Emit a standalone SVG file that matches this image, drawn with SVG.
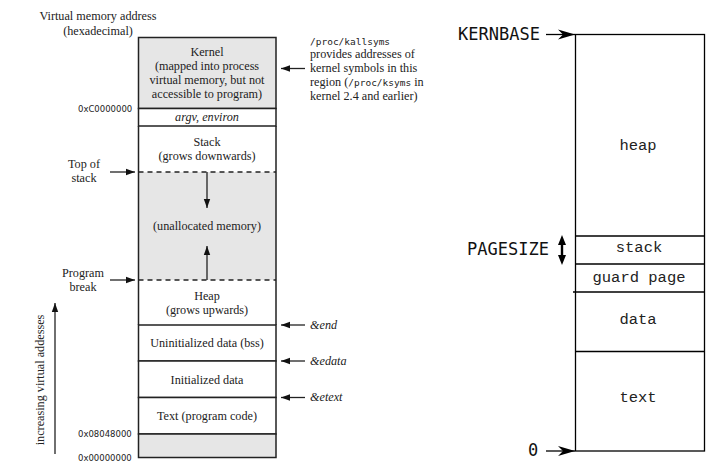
<svg xmlns="http://www.w3.org/2000/svg" width="719" height="474" viewBox="0 0 719 474">
<style>
.s{font-family:"Liberation Serif","DejaVu Serif",serif;font-size:12.2px;fill:#222}
.si{font-family:"Liberation Serif","DejaVu Serif",serif;font-size:12.2px;font-style:italic;fill:#222}
.m{font-family:"DejaVu Sans Mono","Liberation Mono",monospace;font-size:9.5px;fill:#222}
.h{font-family:"DejaVu Sans","Liberation Sans",sans-serif;font-size:8.5px;fill:#222}
.c{text-anchor:middle}
.ln{stroke:#222;stroke-width:1.5;fill:none}
.gr{stroke:#222;stroke-width:1.5;fill:#e6e6e6}
.wh{stroke:#222;stroke-width:1.5;fill:#fff}
.dash{stroke:#222;stroke-width:1.5;stroke-dasharray:5,4;fill:none}
.ar{stroke:#222;stroke-width:1.3;fill:none;marker-end:url(#ah)}
.big{font-family:"DejaVu Sans Mono","Liberation Mono",monospace;font-size:17px;fill:#111}
.lab{font-family:"Liberation Mono","DejaVu Sans Mono",monospace;font-size:15.5px;fill:#222}
.rl{stroke:#000;stroke-width:1.3;fill:none}
</style>
<defs>
<marker id="ah" markerWidth="10" markerHeight="8" refX="9" refY="4" orient="auto" markerUnits="userSpaceOnUse">
<path d="M0,0.8 L9,4 L0,7.2 z" fill="#111"/>
</marker>
<marker id="bh" markerWidth="18" markerHeight="12" refX="17" refY="6" orient="auto" markerUnits="userSpaceOnUse">
<path d="M0,1 L17,6 L0,11 L5,6 z" fill="#000"/>
</marker>
</defs>

<g id="left-labels">
<text class="s c" x="98" y="20">Virtual memory address</text>
<text class="s c" x="98" y="35">(hexadecimal)</text>
<text class="h" x="78" y="112">0xC0000000</text>
<text class="h" x="78" y="437">0x08048000</text>
<text class="h" x="78" y="461">0x00000000</text>
<text class="s c" x="84" y="168">Top of</text>
<text class="s c" x="84" y="182">stack</text>
<text class="s c" x="83" y="277">Program</text>
<text class="s c" x="83" y="291">break</text>
<text class="s c" transform="translate(44,380) rotate(-90)">increasing virtual addesses</text>
</g>

<g id="kernel">
<rect x="138.5" y="37.5" width="137.5" height="71" class="gr"/>
<text class="s c" x="207" y="56">Kernel</text>
<text class="s c" x="207" y="70">(mapped into process</text>
<text class="s c" x="207" y="84">virtual memory, but not</text>
<text class="s c" x="207" y="98">accessible to program)</text>
</g>
<g id="argv">
<rect x="138.5" y="108.5" width="137.5" height="17.5" class="wh"/>
<text class="si c" x="207" y="121">argv, environ</text>
</g>
<g id="stack">
<path class="ln" d="M138.5,126 V172 M276,126 V172"/>
<text class="s c" x="207" y="146">Stack</text>
<text class="s c" x="207" y="160">(grows downwards)</text>
</g>
<g id="unallocated">
<rect x="138.5" y="172" width="137.5" height="108" fill="#e6e6e6"/>
<path class="ln" d="M138.5,172 V280 M276,172 V280"/>
<path class="dash" d="M138.5,172 H276 M138.5,280 H276"/>
<text class="s c" x="207" y="229.5">(unallocated memory)</text>
</g>
<g id="heap">
<path class="ln" d="M138.5,280 V325 M276,280 V325"/>
<text class="s c" x="207" y="300">Heap</text>
<text class="s c" x="207" y="314">(grows upwards)</text>
</g>
<g id="bss">
<rect x="138.5" y="325" width="137.5" height="36" class="wh"/>
<text class="s c" x="207" y="347">Uninitialized data (bss)</text>
</g>
<g id="initdata">
<rect x="138.5" y="361" width="137.5" height="36.5" class="wh"/>
<text class="s c" x="207" y="384">Initialized data</text>
</g>
<g id="textseg">
<rect x="138.5" y="397.5" width="137.5" height="36.5" class="wh"/>
<text class="s c" x="207" y="420">Text (program code)</text>
</g>
<g id="lowmem">
<rect x="138.5" y="434" width="137.5" height="23.5" class="gr"/>
</g>

<g id="right-notes">
<text class="m" x="310" y="45">/proc/kallsyms</text>
<text class="s" x="310" y="58">provides addresses of</text>
<text class="s" x="310" y="72">kernel symbols in this</text>
<text class="s" x="310" y="86">region (<tspan class="m">/proc/ksyms</tspan> in</text>
<text class="s" x="310" y="99.5">kernel 2.4 and earlier)</text>
<text class="si" x="310" y="329">&amp;end</text>
<text class="si" x="310" y="365">&amp;edata</text>
<text class="si" x="310" y="401">&amp;etext</text>
</g>

<g id="connectors-left">
<path class="ar" d="M305,68.5 H281"/>
<path class="ar" d="M110,172 H135"/>
<path class="ar" d="M110,280 H135"/>
<path class="ar" d="M207,172 V208"/>
<path class="ar" d="M207,280 V246"/>
<path class="ar" d="M305,325 H281"/>
<path class="ar" d="M305,361 H281"/>
<path class="ar" d="M305,397.5 H281"/>
<path class="ar" d="M55,454 V303"/>
</g>

<g id="right-box">
<rect x="575.5" y="34.5" width="129" height="416.5" fill="#fff" class="rl"/>
</g>
<g id="r-heap"><text class="lab c" x="638" y="150">heap</text></g>
<g id="r-stack">
<path class="rl" d="M575.5,236 H704.5"/>
<text class="lab c" x="639" y="252">stack</text>
</g>
<g id="r-guard">
<path class="rl" d="M575.5,264 H704.5"/>
<text class="lab c" x="639" y="282">guard page</text>
</g>
<g id="r-data">
<path class="rl" d="M573,292 H704.5"/>
<text class="lab c" x="638" y="324">data</text>
</g>
<g id="r-text">
<path class="rl" d="M575.5,351.5 H704.5"/>
<text class="lab c" x="638" y="402">text</text>
</g>
<g id="r-labels">
<text class="big" x="458" y="40">KERNBASE</text>
<text class="big" x="467" y="255">PAGESIZE</text>
<text class="big" x="528" y="456">0</text>
</g>
<g id="connectors-right">
<path class="rl" d="M546,34.5 H575" marker-end="url(#bh)"/>
<path class="rl" d="M546,451 H575" marker-end="url(#bh)"/>
<path d="M562,235 L566,245 L563.2,245 L563.2,255 L566,255 L562,265 L558,255 L560.8,255 L560.8,245 L558,245 z" fill="#000"/>
</g>
</svg>
